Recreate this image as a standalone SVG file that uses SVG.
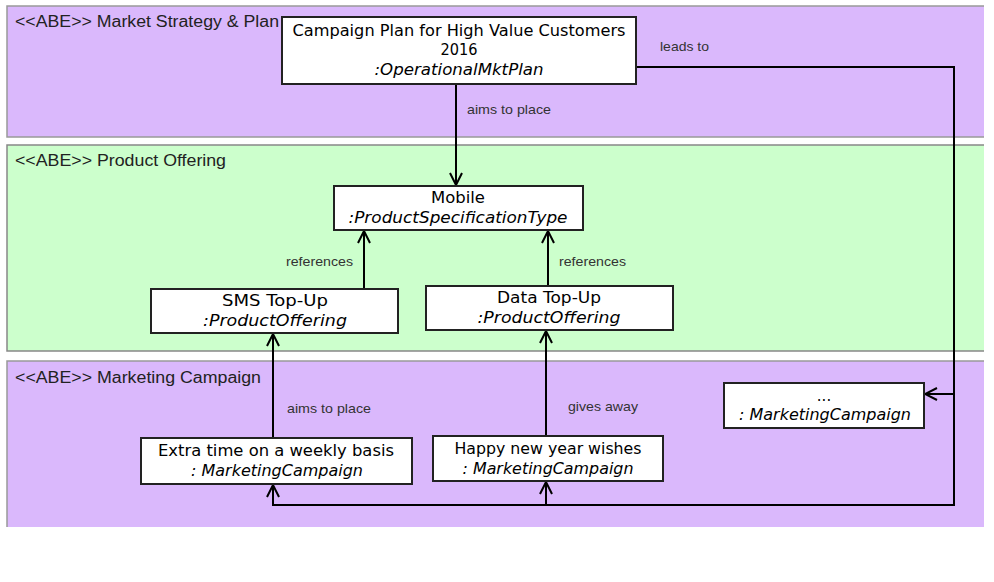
<svg xmlns="http://www.w3.org/2000/svg" width="994" height="582" viewBox="0 0 994 582">
<style>
.panelP{fill:#dab8fc}
.panelG{fill:#ccffcc}
.pb{fill:none;stroke:#999;stroke-width:1.5}
.pbg{fill:none;stroke:#888;stroke-width:1.5}
.ptitle{font-family:"Liberation Sans",Arial,sans-serif;font-size:16px;fill:#222}
.node rect{fill:#fff;stroke:#222;stroke-width:2}
.nt{font-family:"DejaVu Sans","Noto Sans",sans-serif;font-size:15px;fill:#000;text-anchor:middle}
.ni{font-style:italic}
.lbl{font-family:"Liberation Sans",Arial,sans-serif;font-size:13.5px;fill:#333}
.conn{fill:none;stroke:#000;stroke-width:2}
</style>
<defs>
<marker id="arr" viewBox="0 0 14 14" refX="13" refY="7" markerWidth="14" markerHeight="14" markerUnits="userSpaceOnUse" orient="auto">
<path d="M1,1 L13,7 L1,13" fill="none" stroke="#000" stroke-width="2"/>
</marker>
</defs>
<rect width="994" height="582" fill="#fff"/>
<g id="panels">
<rect class="panelP" x="7" y="6" width="977" height="131"/>
<path class="pb" d="M984,6 H7 V137 H984"/>
<text class="ptitle" x="15" y="27" textLength="264" lengthAdjust="spacingAndGlyphs">&lt;&lt;ABE&gt;&gt; Market Strategy &amp; Plan</text>
<rect class="panelG" x="7" y="145" width="977" height="206"/>
<path class="pbg" d="M984,145 H7 V351 H984"/>
<text class="ptitle" x="15" y="166" textLength="211" lengthAdjust="spacingAndGlyphs">&lt;&lt;ABE&gt;&gt; Product Offering</text>
<rect class="panelP" x="7" y="361" width="977" height="166"/>
<path class="pb" d="M984,361 H7 V527"/>
<text class="ptitle" x="15" y="383" textLength="246" lengthAdjust="spacingAndGlyphs">&lt;&lt;ABE&gt;&gt; Marketing Campaign</text>
</g>
<g id="connectors">
<path class="conn" d="M456,84 V185" marker-end="url(#arr)"/>
<text class="lbl" x="467" y="114" textLength="84" lengthAdjust="spacingAndGlyphs">aims to place</text>
<path class="conn" d="M364,289 V231" marker-end="url(#arr)"/>
<text class="lbl" x="286" y="266" textLength="67" lengthAdjust="spacingAndGlyphs">references</text>
<path class="conn" d="M548,286 V231" marker-end="url(#arr)"/>
<text class="lbl" x="559" y="266" textLength="67" lengthAdjust="spacingAndGlyphs">references</text>
<path class="conn" d="M273,438 V334" marker-end="url(#arr)"/>
<text class="lbl" x="287" y="413" textLength="84" lengthAdjust="spacingAndGlyphs">aims to place</text>
<path class="conn" d="M546,436 V331" marker-end="url(#arr)"/>
<text class="lbl" x="568" y="411" textLength="70" lengthAdjust="spacingAndGlyphs">gives away</text>
<path class="conn" d="M636,67 H954 V505 H273 V485" marker-end="url(#arr)"/>
<path class="conn" d="M954,394 H925" marker-end="url(#arr)"/>
<path class="conn" d="M546,505 V482" marker-end="url(#arr)"/>
<text class="lbl" x="660" y="51" textLength="49" lengthAdjust="spacingAndGlyphs">leads to</text>
</g>
<g id="n-plan" class="node">
<rect x="282" y="17" width="354" height="67"/>
<text class="nt" x="459" y="36" textLength="333" lengthAdjust="spacingAndGlyphs">Campaign Plan for High Value Customers</text>
<text class="nt" x="459" y="55" textLength="37" lengthAdjust="spacingAndGlyphs">2016</text>
<text class="nt ni" x="459" y="75" textLength="169" lengthAdjust="spacingAndGlyphs">:OperationalMktPlan</text>
</g>
<g id="n-mobile" class="node">
<rect x="334" y="186" width="249" height="44"/>
<text class="nt" x="458" y="203" textLength="54" lengthAdjust="spacingAndGlyphs">Mobile</text>
<text class="nt ni" x="458" y="223" textLength="219" lengthAdjust="spacingAndGlyphs">:ProductSpecificationType</text>
</g>
<g id="n-sms" class="node">
<rect x="151" y="289" width="247" height="44"/>
<text class="nt" x="275" y="306" textLength="106" lengthAdjust="spacingAndGlyphs">SMS Top-Up</text>
<text class="nt ni" x="275" y="326" textLength="144" lengthAdjust="spacingAndGlyphs">:ProductOffering</text>
</g>
<g id="n-data" class="node">
<rect x="426" y="286" width="247" height="44"/>
<text class="nt" x="549" y="303" textLength="104" lengthAdjust="spacingAndGlyphs">Data Top-Up</text>
<text class="nt ni" x="549" y="323" textLength="143" lengthAdjust="spacingAndGlyphs">:ProductOffering</text>
</g>
<g id="n-extra" class="node">
<rect x="141" y="438" width="271" height="46"/>
<text class="nt" x="276" y="456" textLength="236" lengthAdjust="spacingAndGlyphs">Extra time on a weekly basis</text>
<text class="nt ni" x="277" y="476" textLength="172" lengthAdjust="spacingAndGlyphs">: MarketingCampaign</text>
</g>
<g id="n-happy" class="node">
<rect x="433" y="436" width="230" height="45"/>
<text class="nt" x="548" y="454" textLength="187" lengthAdjust="spacingAndGlyphs">Happy new year wishes</text>
<text class="nt ni" x="548" y="474" textLength="171" lengthAdjust="spacingAndGlyphs">: MarketingCampaign</text>
</g>
<g id="n-more" class="node">
<rect x="724" y="383" width="200" height="45"/>
<text class="nt" x="824" y="401">...</text>
<text class="nt ni" x="825" y="420" textLength="172" lengthAdjust="spacingAndGlyphs">: MarketingCampaign</text>
</g>
</svg>
